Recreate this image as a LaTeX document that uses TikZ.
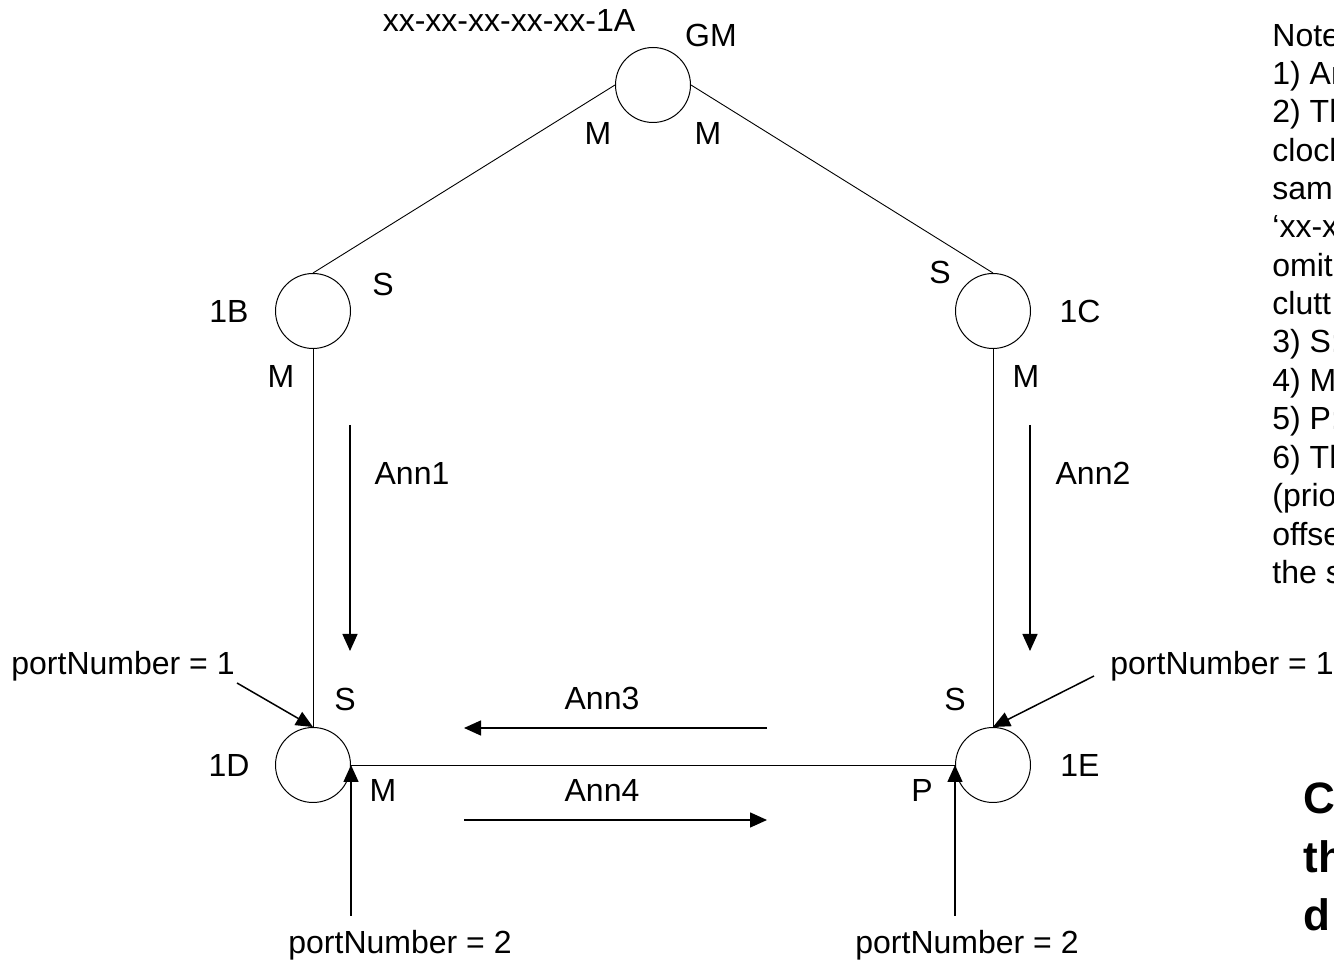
\documentclass[tikz,border=0pt]{standalone}
\usepackage{fontspec}
\setmainfont{Liberation Sans}
\usetikzlibrary{arrows.meta}
\begin{document}
\begin{tikzpicture}[x=0.5pt,y=-0.5pt,
  clk/.style={draw,circle,minimum size=37.5pt,inner sep=0pt,line width=0.5pt},
  lbl/.style={inner sep=0pt,text height=11.5pt,text depth=0pt,font=\fontsize{16pt}{19pt}\selectfont},
  note/.style={lbl,anchor=west},
  big/.style={inner sep=0pt,text height=16pt,text depth=0pt,anchor=west,font=\fontsize{22pt}{26pt}\selectfont\bfseries},
  link/.style={line width=0.45pt},
  arr/.style={line width=0.75pt,-{Triangle[length=8.5pt,width=7.5pt]}}]
\useasboundingbox (0,0) rectangle (1334,961);
% clocks
\node[clk] (GM) at (653,85) {};
\node[clk] (B) at (313,311) {};
\node[clk] (C) at (993,311) {};
\node[clk] (D) at (313,765) {};
\node[clk] (E) at (993,765) {};
% links
\draw[link] (GM.west) -- (B.north);
\draw[link] (GM.east) -- (C.north);
\draw[link] (B.south) -- (D.north);
\draw[link] (C.south) -- (E.north);
\draw[link] (D.east) -- (E.west);
% announce arrows
\coordinate (a1s) at (350,425); \coordinate (a1e) at (350,651);
\coordinate (a2s) at (1030,425); \coordinate (a2e) at (1030,651);
\coordinate (a3s) at (767,728); \coordinate (a3e) at (464,728);
\coordinate (a4s) at (464,820); \coordinate (a4e) at (767,820);
\draw[arr] (a1s) -- (a1e);
\draw[arr] (a2s) -- (a2e);
\draw[arr] (a3s) -- (a3e);
\draw[arr] (a4s) -- (a4e);
% port arrows
\coordinate (p1l) at (237,683);
\coordinate (p1r) at (1094,676);
\coordinate (p2l) at (351,916);
\coordinate (p2r) at (955,916);
\draw[arr] (p1l) -- (D.north);
\draw[arr] (p1r) -- (E.north);
\draw[arr] (p2l) -- (D.east);
\draw[arr] (p2r) -- (E.west);
% labels
\node[lbl] (lA) at (509,20) {xx-xx-xx-xx-xx-1A};
\node[lbl] (lGM) at (711,35) {GM};
\node[lbl] (lGMm1) at (598,133) {M};
\node[lbl] (lGMm2) at (708,133) {M};
\node[lbl] (l1B) at (229,311) {1B};
\node[lbl] (lBs) at (383,284) {S};
\node[lbl] (lBm) at (281,376) {M};
\node[lbl] (l1C) at (1080,311) {1C};
\node[lbl] (lCs) at (940,272) {S};
\node[lbl] (lCm) at (1026,376) {M};
\node[lbl] (lAnn1) at (412,473) {Ann1};
\node[lbl] (lAnn2) at (1093,473) {Ann2};
\node[lbl] (lp1l) at (123,663) {portNumber = 1};
\node[lbl] (lp1r) at (1222,663) {portNumber = 1};
\node[lbl] (lDs) at (345,699) {S};
\node[lbl] (lEs) at (955,699) {S};
\node[lbl] (lAnn3) at (602,698) {Ann3};
\node[lbl] (lAnn4) at (602,790) {Ann4};
\node[lbl] (l1D) at (229,765) {1D};
\node[lbl] (lDm) at (383,790) {M};
\node[lbl] (lEp) at (922,790) {P};
\node[lbl] (l1E) at (1080,765) {1E};
\node[lbl] (lp2l) at (400,942) {portNumber = 2};
\node[lbl] (lp2r) at (967,942) {portNumber = 2};
% notes (cut by the picture edge, as in the reference)
\node[note] (n1) at (1272,35) {Note};
\node[note] (n2) at (1272,73) {1) An};
\node[note] (n3) at (1272,111) {2) Th};
\node[note] (n4) at (1272,150) {clock};
\node[note] (n5) at (1272,188) {sam};
\node[note] (n6) at (1272,226) {‘xx-x};
\node[note] (n7) at (1272,265) {omit};
\node[note] (n8) at (1272,303) {clutt};
\node[note] (n9) at (1272,341) {3) S:};
\node[note] (n10) at (1272,380) {4) M};
\node[note] (n11) at (1272,418) {5) P:};
\node[note] (n12) at (1272,457) {6) Th};
\node[note] (n13) at (1272,495) {(prio};
\node[note] (n14) at (1272,534) {offse};
\node[note] (n15) at (1272,572) {the s};
\node[big] (b1) at (1303,798) {C};
\node[big] (b2) at (1303,857) {th};
\node[big] (b3) at (1303,915) {d};
\end{tikzpicture}
\end{document}
